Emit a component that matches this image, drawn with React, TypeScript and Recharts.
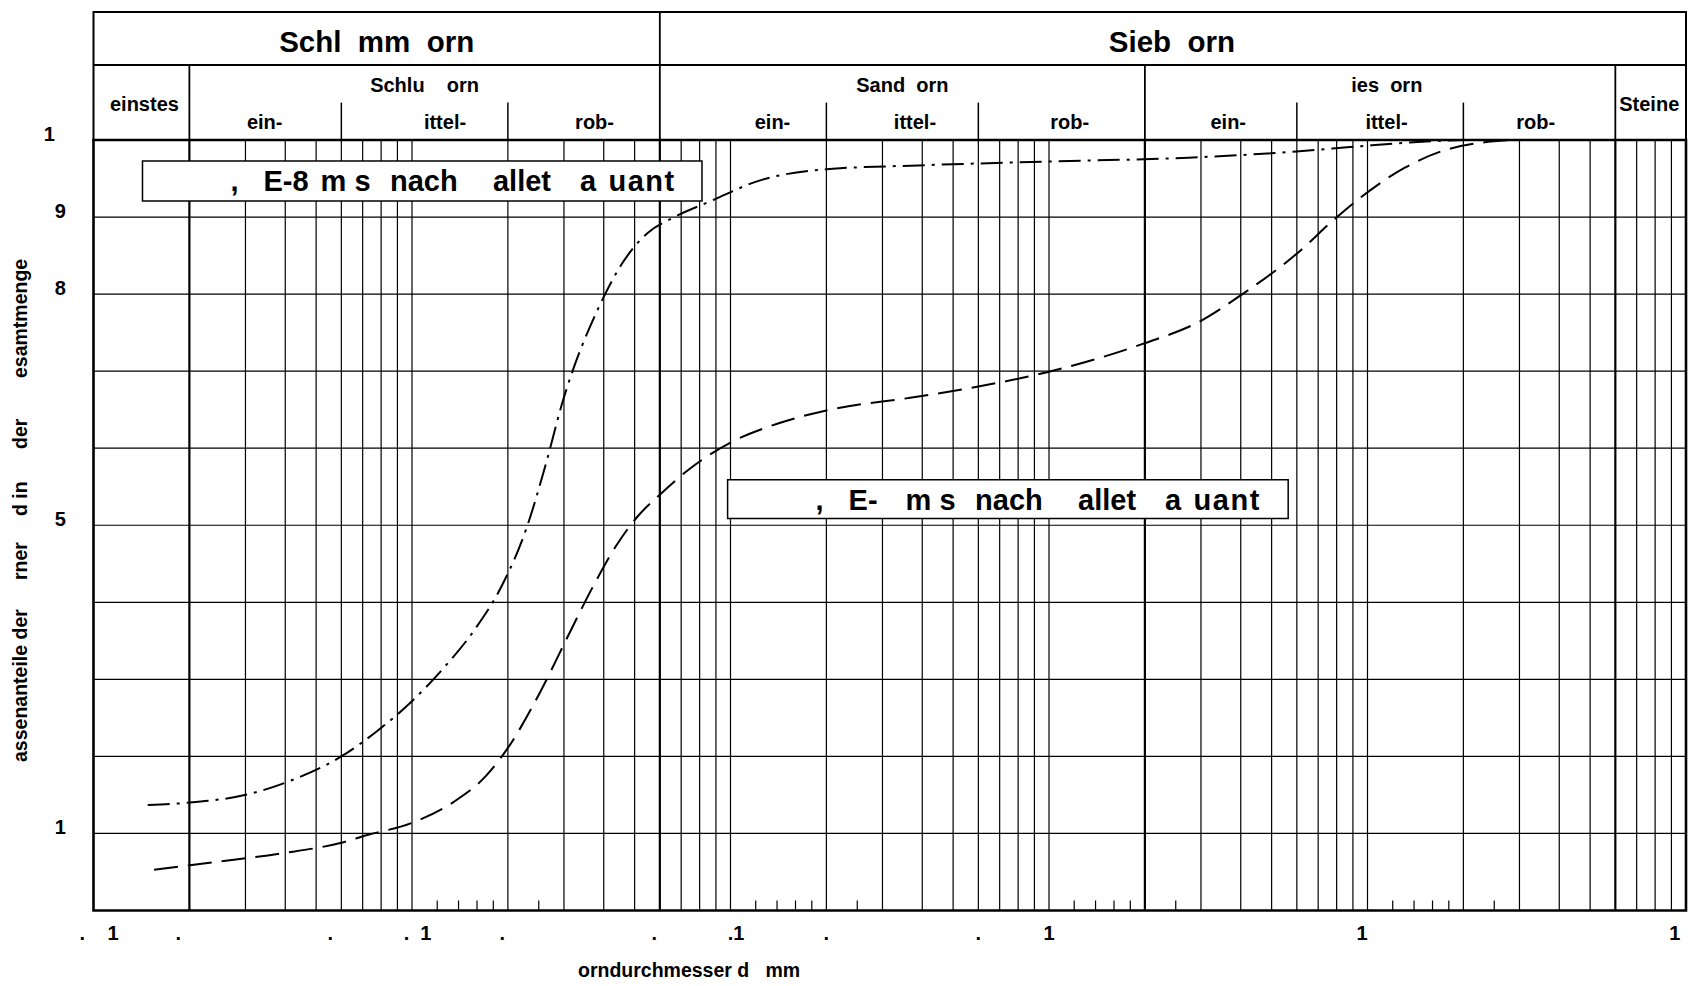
import React from "react";
import {
  ComposedChart,
  Line,
  XAxis,
  YAxis,
  CartesianGrid,
  ReferenceLine,
  ReferenceArea,
} from "recharts";

const FONT = "'Liberation Sans', Arial, Helvetica, sans-serif";
const INK = "#000";

// grading curves: grain size d [mm] and passing [%]
const dashDotSize = [
  0.00148, 0.002, 0.00307, 0.00419, 0.006, 0.00783, 0.0099, 0.01252, 0.01582, 0.01923,
  0.02283, 0.0263, 0.0295, 0.0388, 0.0454, 0.0552, 0.0645, 0.0882, 0.1205, 0.2, 0.389,
  0.993, 2.74, 5.98, 9.56, 15.3, 20,
];
const dashDotPassing = [
  13.7, 14.0, 15.1, 16.9, 20.0, 23.4, 27.0, 31.4, 36.6, 42.3, 49.5, 57.9, 65.6, 78.5,
  83.8, 88.0, 89.7, 92.2, 94.6, 96.2, 96.7, 97.2, 97.7, 98.5, 99.2, 99.8, 100,
];
const dashedSize = [
  0.00155, 0.00243, 0.00388, 0.006, 0.00724, 0.0099, 0.01353, 0.0171, 0.02, 0.0253,
  0.0307, 0.0374, 0.0437, 0.051, 0.0601, 0.0754, 0.1031, 0.1409, 0.2, 0.389, 0.6, 0.993,
  1.99, 2.96, 4.05, 5.98, 7.87, 9.56, 13.1, 17.9, 28.5,
];
const dashedPassing = [
  5.3, 6.3, 7.4, 8.8, 9.8, 11.3, 14.1, 17.5, 21.1, 28.4, 35.4, 42.4, 47.3, 51.1, 54.0,
  57.5, 61.0, 63.2, 64.9, 66.7, 68.0, 69.9, 73.6, 76.4, 80.0, 85.2, 89.7, 92.6, 96.4,
  98.8, 100,
];

// axis ticks
const xTickValues = [0.001, 0.002, 0.006, 0.01, 0.02, 0.06, 0.1, 0.2, 0.6, 1, 2, 6, 10, 20, 60, 100];
const xTickLabels = ["0.001", "0.002", "0.006", "0.01", "0.02", "0.06", "0.1", "0.2", "0.6", "1", "2", "6", "10", "20", "60", "100"];
const yTickValues = [0, 10, 20, 30, 40, 50, 60, 70, 80, 90, 100];

// log grid of the sheet
const thinGrid = [
  0.003, 0.004, 0.005, 0.006, 0.007, 0.008, 0.009, 0.01, 0.02, 0.03, 0.04, 0.05, 0.07,
  0.08, 0.09, 0.1, 0.2, 0.3, 0.4, 0.5, 0.6, 0.7, 0.8, 0.9, 1, 3, 4, 5, 6, 7, 8, 9, 10,
  20, 30, 40, 50, 70, 80, 90,
];
const boldGrid = [0.002, 0.06, 2, 60];
const shortTicks = [
  0.012, 0.014, 0.016, 0.018, 0.025, 0.12, 0.14, 0.16, 0.18, 0.25, 1.2, 1.4, 1.6, 1.8,
  2.5, 12, 14, 16, 18, 25,
];

// these digits are missing on the sheet, only the others are printed
const LOST_DIGITS = "023467";

const dashDotData = dashDotSize.map((size, i) => ({ size, passing: dashDotPassing[i] }));
const dashedData = dashedSize.map((size, i) => ({ size, passing: dashedPassing[i] }));

// header table above the plot, in y units of the chart (plot is 0..100 %)
const HEAD_TOP = 116.61;
const HEAD_ROW = 109.73;
const HEAD_SUB = 104.85;

type Cell = { x1: number; x2: number; y1: number; y2: number; text: string; dx: number; base: number; size: number };
const headerCells: Cell[] = [
  { x1: 0.001, x2: 0.06, y1: HEAD_ROW, y2: HEAD_TOP, text: "Schl  mm  orn", dx: 0, base: 39.5, size: 29.5 },
  { x1: 0.06, x2: 100, y1: HEAD_ROW, y2: HEAD_TOP, text: "Sieb  orn", dx: -1, base: 39.5, size: 29.5 },
  { x1: 0.001, x2: 0.002, y1: 100, y2: HEAD_ROW, text: "einstes", dx: 3, base: 46, size: 20 },
  { x1: 60, x2: 100, y1: 100, y2: HEAD_ROW, text: "Steine", dx: -1.4, base: 46, size: 20 },
  { x1: 0.002, x2: 0.06, y1: HEAD_SUB, y2: HEAD_ROW, text: "Schlu    orn", dx: 0, base: 26.5, size: 20 },
  { x1: 0.06, x2: 2, y1: HEAD_SUB, y2: HEAD_ROW, text: "Sand  orn", dx: 0, base: 26.5, size: 20 },
  { x1: 2, x2: 60, y1: HEAD_SUB, y2: HEAD_ROW, text: "ies  orn", dx: 6.7, base: 26.5, size: 20 },
  { x1: 0.002, x2: 0.006, y1: 100, y2: HEAD_SUB, text: "ein-", dx: -0.7, base: 26.7, size: 20 },
  { x1: 0.006, x2: 0.02, y1: 100, y2: HEAD_SUB, text: "ittel-", dx: 20.4, base: 26.7, size: 20 },
  { x1: 0.02, x2: 0.06, y1: 100, y2: HEAD_SUB, text: "rob-", dx: 10.7, base: 26.7, size: 20 },
  { x1: 0.06, x2: 0.2, y1: 100, y2: HEAD_SUB, text: "ein-", dx: 29.4, base: 26.7, size: 20 },
  { x1: 0.2, x2: 0.6, y1: 100, y2: HEAD_SUB, text: "ittel-", dx: 12.6, base: 26.7, size: 20 },
  { x1: 0.6, x2: 2, y1: 100, y2: HEAD_SUB, text: "rob-", dx: 8.1, base: 26.7, size: 20 },
  { x1: 2, x2: 6, y1: 100, y2: HEAD_SUB, text: "ein-", dx: 7.4, base: 26.7, size: 20 },
  { x1: 6, x2: 20, y1: 100, y2: HEAD_SUB, text: "ittel-", dx: 6.4, base: 26.7, size: 20 },
  { x1: 20, x2: 60, y1: 100, y2: HEAD_SUB, text: "rob-", dx: -3.6, base: 26.7, size: 20 },
];
const headerToTop = [0.06];
const headerToRow = [0.002, 2, 60];
const headerToSub = [0.006, 0.02, 0.2, 0.6, 6, 20];

// legend boxes next to the curves
const legendWordsA = [",", "E-8", "m", "s", "nach", "allet", "a", "uant"];
const legendWordsB = [",", "E-", "m", "s", "nach", "allet", "a", "uant"];
const legendOffsets = [88, 121, 178, 212, 247.5, 350.5, 437.5, 466];
const legendBoxes = [
  { x1: 0.001425, x2: 0.08137, y1: 92.08, y2: 97.27, words: legendWordsA },
  { x1: 0.09793, x2: 5.636, y1: 50.86, y2: 55.91, words: legendWordsB },
];

const yTitleWords = ["assenanteile der", "rner", "d in", "der", "esamtmenge"];
const yTitleStarts = [762, 580, 516, 449, 378];

const TICK_FONT = 20;
const DIGIT = 0.556;
const DOT = 0.278;

function glyphs(label: string, start: number, size: number) {
  const out: React.ReactNode[] = [];
  let cx = start;
  [...label].forEach((c, i) => {
    const adv = (c === "." ? DOT : DIGIT) * size;
    if (!LOST_DIGITS.includes(c)) {
      out.push(
        <tspan key={i} x={cx}>
          {c}
        </tspan>
      );
    }
    cx += adv;
  });
  return out;
}

const labelWidth = (label: string, size: number) =>
  [...label].reduce((s, c) => s + (c === "." ? DOT : DIGIT) * size, 0);

const XTick = ({ x, payload }: any) => {
  const label = xTickLabels[xTickValues.indexOf(payload.value)] ?? "";
  const w = labelWidth(label, TICK_FONT);
  return (
    <text y={939.5} fontFamily={FONT} fontWeight="bold" fontSize={TICK_FONT} fill={INK}>
      {glyphs(label, x - w / 2, TICK_FONT)}
    </text>
  );
};

const YTick = ({ y, payload }: any) => {
  const label = String(payload.value);
  const w = labelWidth(label, TICK_FONT);
  return (
    <text y={y + 1} fontFamily={FONT} fontWeight="bold" fontSize={TICK_FONT} fill={INK}>
      {glyphs(label, 77 - w, TICK_FONT)}
    </text>
  );
};

const headerLabel = (cell: Cell) => (props: any) => {
  const vb = props.viewBox;
  return (
    <text
      x={vb.x + vb.width / 2 + cell.dx}
      y={vb.y + cell.base}
      textAnchor="middle"
      fontFamily={FONT}
      fontWeight="bold"
      fontSize={cell.size}
      fill={INK}
      xmlSpace="preserve"
      style={{ whiteSpace: "pre" }}
    >
      {cell.text}
    </text>
  );
};

const legendLabel = (words: string[]) => (props: any) => {
  const vb = props.viewBox;
  return (
    <text y={vb.y + 30.4} fontFamily={FONT} fontWeight="bold" fontSize={29} fill={INK}>
      {words.map((w, i) => (
        <tspan key={i} x={vb.x + legendOffsets[i]} letterSpacing={w === "uant" ? 1.5 : 0}>
          {w + " "}
        </tspan>
      ))}
    </text>
  );
};

const XTitle = () => (
  <text
    x={578}
    y={977}
    fontFamily={FONT}
    fontWeight="bold"
    fontSize={19.5}
    fill={INK}
    xmlSpace="preserve"
    style={{ whiteSpace: "pre" }}
  >
    {"orndurchmesser d   mm"}
  </text>
);

const YTitle = () => (
  <text transform="rotate(-90)" fontFamily={FONT} fontWeight="bold" fontSize={19.5} fill={INK}>
    {yTitleWords.map((w, i) => (
      <tspan key={i} x={-yTitleStarts[i]} y={27}>
        {w}
      </tspan>
    ))}
  </text>
);

export default function App() {
  return (
    <div style={{ position: "absolute", left: 0, top: 0, width: 1694, height: 986, background: "#fff" }}>
      <ComposedChart width={1694} height={986} margin={{ top: 12, right: 8, bottom: 0, left: 0 }}>
        <CartesianGrid vertical={false} stroke={INK} strokeWidth={1.2} />
        <XAxis
          dataKey="size"
          type="number"
          scale="log"
          domain={[0.001, 100]}
          allowDataOverflow
          ticks={xTickValues}
          interval={0}
          height={75.5}
          axisLine={false}
          tickLine={false}
          tick={(p: any) => <XTick {...p} />}
          label={() => <XTitle />}
        />
        <YAxis
          type="number"
          domain={[0, HEAD_TOP]}
          allowDataOverflow
          ticks={yTickValues}
          interval={0}
          width={93.5}
          axisLine={false}
          tickLine={false}
          tick={(p: any) => <YTick {...p} />}
          label={() => <YTitle />}
        />

        {thinGrid.map((v) => (
          <ReferenceLine key={"t" + v} segment={[{ x: v, y: 0 }, { x: v, y: 100 }]} stroke={INK} strokeWidth={1.2} />
        ))}
        {boldGrid.map((v) => (
          <ReferenceLine key={"b" + v} segment={[{ x: v, y: 0 }, { x: v, y: 100 }]} stroke={INK} strokeWidth={2.2} />
        ))}
        {shortTicks.map((v) => (
          <ReferenceLine key={"s" + v} segment={[{ x: v, y: 0 }, { x: v, y: 1.3 }]} stroke={INK} strokeWidth={1.2} />
        ))}

        {/* header table */}
        <ReferenceLine segment={[{ x: 0.001, y: HEAD_ROW }, { x: 100, y: HEAD_ROW }]} stroke={INK} strokeWidth={1.8} />
        {headerToTop.map((v) => (
          <ReferenceLine key={"ht" + v} segment={[{ x: v, y: 100 }, { x: v, y: HEAD_TOP }]} stroke={INK} strokeWidth={1.8} />
        ))}
        {headerToRow.map((v) => (
          <ReferenceLine key={"hr" + v} segment={[{ x: v, y: 100 }, { x: v, y: HEAD_ROW }]} stroke={INK} strokeWidth={1.8} />
        ))}
        {headerToSub.map((v) => (
          <ReferenceLine key={"hs" + v} segment={[{ x: v, y: 100 }, { x: v, y: HEAD_SUB }]} stroke={INK} strokeWidth={1.5} />
        ))}
        {headerCells.map((c, i) => (
          <ReferenceArea
            key={"hc" + i}
            x1={c.x1}
            x2={c.x2}
            y1={c.y1}
            y2={c.y2}
            fill="none"
            fillOpacity={0}
            stroke="none"
            label={headerLabel(c)}
          />
        ))}
        <ReferenceArea x1={0.001} x2={100} y1={100} y2={HEAD_TOP} fill="none" fillOpacity={0} stroke={INK} strokeWidth={2} />
        <ReferenceArea x1={0.001} x2={100} y1={0} y2={100} fill="none" fillOpacity={0} stroke={INK} strokeWidth={2.6} />

        <Line
          data={dashDotData}
          dataKey="passing"
          type="monotone"
          stroke={INK}
          strokeWidth={2}
          strokeDasharray="22 7 3 7"
          dot={false}
          activeDot={false}
          isAnimationActive={false}
        />
        <Line
          data={dashedData}
          dataKey="passing"
          type="monotone"
          stroke={INK}
          strokeWidth={2}
          strokeDasharray="24 10"
          dot={false}
          activeDot={false}
          isAnimationActive={false}
        />

        {legendBoxes.map((b, i) => (
          <ReferenceArea
            key={"lg" + i}
            x1={b.x1}
            x2={b.x2}
            y1={b.y1}
            y2={b.y2}
            fill="#fff"
            fillOpacity={1}
            stroke={INK}
            strokeWidth={1.5}
            zIndex={450}
            label={legendLabel(b.words)}
          />
        ))}
      </ComposedChart>
    </div>
  );
}
